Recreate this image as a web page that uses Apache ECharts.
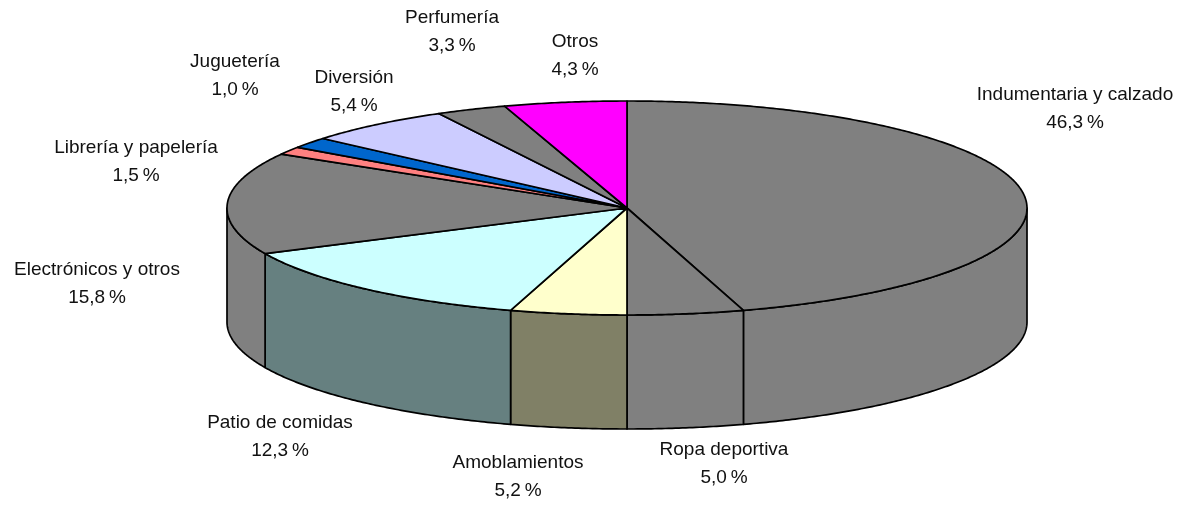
<!DOCTYPE html>
<html><head><meta charset="utf-8">
<style>html,body{margin:0;padding:0;background:#fff}#c{width:1189px;height:507px}</style>
<script src="https://cdn.jsdelivr.net/npm/echarts@6/dist/echarts.min.js"></script>
</head><body><div id="c"></div>
<script>
// Slices, clockwise from 12 o'clock
const categories = ['Indumentaria y calzado','Ropa deportiva','Amoblamientos','Patio de comidas','Electrónicos y otros','Librería y papelería','Juguetería','Diversión','Perfumería','Otros'];
// Percentages printed in the labels
const labelValues = [46.3,5.0,5.2,12.3,15.8,1.5,1.0,5.4,3.3,4.3];
// Share of the turn each wedge occupies as drawn (the 3D projection skews them a little)
const drawnShares = [45.3,4.7,4.7,13.3,15.4,1.2,1.65,5.95,2.85,4.95];

// Styles and layout
const topColors  = ['#808080','#808080','#FFFFCC','#CCFFFF','#808080','#FF8080','#0066CC','#CCCCFF','#808080','#FF00FF'];
const sideColors = ['#808080','#808080','#808066','#668080','#808080','#804040','#003366','#666680','#808080','#800080'];
const labelCentres = [[1075,109],[724,464],[518,477],[280,437],[97,284],[136,162],[235,76],[354,92],[452,32],[575,56]];
const geo = {cx:627, cy:208, rx:400, ry:107, depth:114};

const pt = (deg, dy) => {
  const a = deg*Math.PI/180;
  return [geo.cx + geo.rx*Math.sin(a), geo.cy - geo.ry*Math.cos(a) + (dy||0)];
};
function arc(from, to, dy){
  const out=[]; const n=Math.max(2,Math.ceil(Math.abs(to-from)/0.5));
  for(let i=0;i<=n;i++) out.push(pt(from+(to-from)*i/n, dy));
  return out;
}
const starts = []; drawnShares.reduce((s,v,i)=>(starts[i]=s,s+v),0);

function renderItem(params, api){
  const i = params.dataIndex;
  const a0 = starts[i]*3.6, a1 = (starts[i]+api.value(0))*3.6;
  const line = {stroke:'#000', lineWidth:1.7, lineJoin:'round'};
  const kids = [];
  // front wall: visible only for the part of the rim between 3 and 9 o'clock
  const s0 = Math.max(a0,90), s1 = Math.min(a1,270);
  if (s1 > s0){
    const rim = arc(s0,s1,0), low = arc(s1,s0,geo.depth);
    kids.push({type:'polygon', z2:1, shape:{points:rim.concat(low)},
      style:Object.assign({fill:sideColors[i]},line)});
  }
  // top wedge
  kids.push({type:'polygon', z2:2, shape:{points:[[geo.cx,geo.cy]].concat(arc(a0,a1,0))},
    style:Object.assign({fill:topColors[i]},line)});
  // label
  const c = labelCentres[i];
  kids.push({type:'text', z2:3, x:c[0], y:c[1], style:{
    text:categories[i]+'\n'+api.value(1).toFixed(1).replace('.',',')+'\u2009%',
    fill:'#111', font:'19px "Liberation Sans", Arial, sans-serif', align:'center', verticalAlign:'middle', lineHeight:27.5}});
  return {type:'group', children:kids};
}

const chart = echarts.init(document.getElementById('c'), null, {renderer:'canvas'});
chart.setOption({
  animation:false, backgroundColor:'#fff',
  series:[{type:'custom', coordinateSystem:'none', silent:true, renderItem,
    data:categories.map((name,i)=>({name, value:[drawnShares[i],labelValues[i]]}))}]
});
</script></body></html>
